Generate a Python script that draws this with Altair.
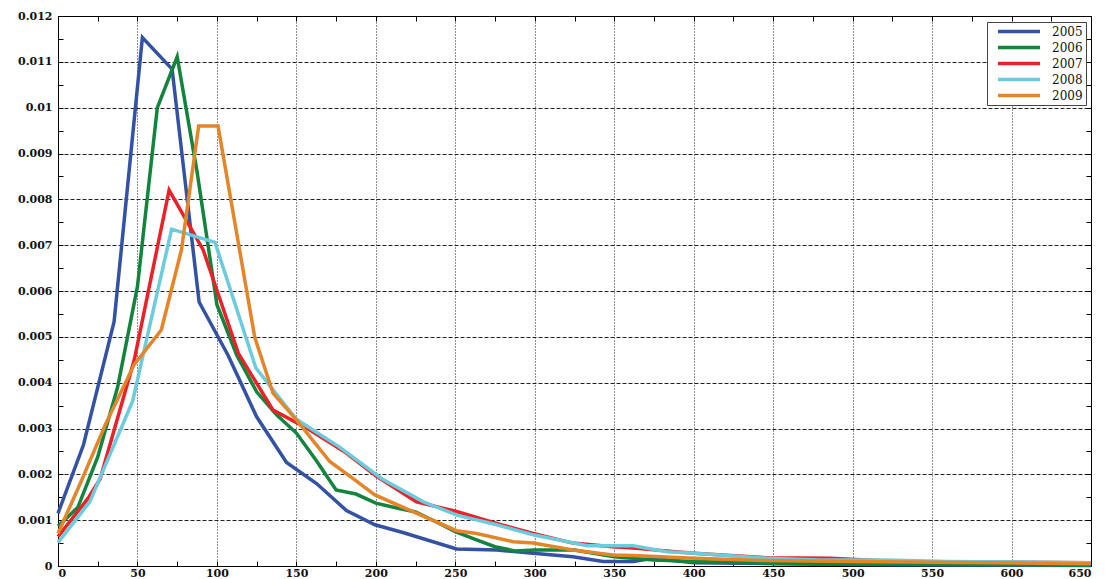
import altair as alt
import pandas as pd

# Density curves per year (x: value, y: density)
years = ["2005", "2006", "2007", "2008", "2009"]
colors = ["#3452a4", "#13843e", "#ec2027", "#6ccbdc", "#e4852a"]

x_2005 = [0, 16, 35.3, 53.1, 71.8, 88.8, 107, 124.9, 143.8, 162.7, 181.5, 199.4, 217, 250.8,
          276, 299, 324, 343, 362, 374, 400, 450, 500, 650]
y_2005 = [0.00115, 0.00264, 0.00533, 0.01153, 0.01084, 0.00576, 0.0046, 0.00326, 0.00226, 0.0018,
          0.00121, 0.0009, 0.00073, 0.00037, 0.00035, 0.00028, 0.0002, 0.0001, 0.0001, 0.00017,
          0.00007, 0.00005, 0.00003, 0.00001]

x_2006 = [0, 12.5, 25, 37.5, 50, 62.5, 75, 87.5, 100, 112.5, 125, 137.5, 150, 162.5, 175, 187.5,
          200, 212.5, 225, 237.5, 250, 262.5, 275, 287.5, 300, 325, 350, 375, 400, 450, 500, 650]
y_2006 = [0.00087, 0.00128, 0.00238, 0.0039, 0.0061, 0.0100, 0.01111, 0.0086, 0.0057, 0.0046,
          0.0038, 0.0033, 0.0029, 0.0023, 0.00166, 0.00157, 0.00137, 0.00127, 0.00118, 0.00097,
          0.00075, 0.00058, 0.00042, 0.00033, 0.00035, 0.00035, 0.0002, 0.00013, 0.0001, 0.00006,
          0.00004, 0.00002]

x_2007 = [0, 19, 26.5, 48, 69.9, 91.3, 113.5, 135.3, 157, 180, 200, 225.6, 250.8, 276, 299, 324,
          349, 362, 400, 446, 486, 528, 650]
y_2007 = [0.00064, 0.00148, 0.0019, 0.0045, 0.0082, 0.0069, 0.00464, 0.0034, 0.0030, 0.0025,
          0.00197, 0.0014, 0.00119, 0.00093, 0.00071, 0.0005, 0.00042, 0.00039, 0.00028, 0.00018,
          0.00017, 0.0001, 0.00007]

x_2008 = [0, 20, 47, 71.5, 98.8, 124.5, 150, 177, 204, 230, 251, 276, 299, 333, 362, 383, 400,
          446, 480, 520, 560, 650]
y_2008 = [0.00051, 0.0014, 0.0036, 0.00735, 0.00706, 0.00432, 0.0032, 0.0026, 0.0019, 0.0014,
          0.00111, 0.0009, 0.00068, 0.00044, 0.00044, 0.00031, 0.00028, 0.00017, 0.00013, 0.00013,
          0.0001, 0.00007]

x_2009 = [0, 14, 30, 48, 65, 77.7, 88.5, 100.7, 123.8, 135.3, 150, 171, 184, 199.4, 223, 250.8,
          263.4, 286.4, 299, 324, 349, 362, 400, 446, 500, 650]
y_2009 = [0.00071, 0.0018, 0.0031, 0.0044, 0.00515, 0.0069, 0.0096, 0.0096, 0.00499, 0.00377,
          0.00319, 0.00228, 0.00195, 0.00155, 0.00119, 0.00077, 0.00071, 0.00053, 0.0005, 0.00035,
          0.00024, 0.00023, 0.00017, 0.00012, 0.0001, 0.00005]

series = [(years[0], x_2005, y_2005), (years[1], x_2006, y_2006), (years[2], x_2007, y_2007),
          (years[3], x_2008, y_2008), (years[4], x_2009, y_2009)]

rows = []
for yr, xs, ys in series:
    for i, (a, b) in enumerate(zip(xs, ys)):
        rows.append({"year": yr, "x": a, "density": b, "order": i})
df = pd.DataFrame(rows)

x_ticks = list(range(0, 651, 25))
y_ticks = [round(i * 0.0005, 4) for i in range(25)]
major_x = "datum.value % 50 === 0"
major_y = "round(datum.value * 10000) % 10 === 0"

font = "DejaVu Serif"
xscale = alt.Scale(domain=[0, 650], nice=False, zero=False)
yscale = alt.Scale(domain=[0, 0.012], nice=False)

common = dict(
    title=None,
    domainColor="#000",
    tickColor="#000",
    tickSize={"expr": "-5"},
    labelFont=font,
    labelFontSize=11,
    labelFontWeight="bold",
    labelColor="#111",
    labelOverlap=False,
)

lines = alt.Chart(df).mark_line(strokeWidth=3.5).encode(
    x=alt.X("x:Q", scale=xscale, axis=alt.Axis(
        values=x_ticks, format="d", labelExpr=f"{major_x} ? datum.label : ''",
        labelPadding=6, grid=True, gridDash=[1, 2], gridColor="#222",
        gridOpacity={"condition": {"test": major_x, "value": 1}, "value": 0},
        **common)),
    y=alt.Y("density:Q", scale=yscale, axis=alt.Axis(
        values=y_ticks, format="~g", labelExpr=f"{major_y} ? datum.label : ''",
        labelPadding=11, grid=True, gridDash=[4, 2], gridColor="#222",
        gridOpacity={"condition": {"test": major_y, "value": 1}, "value": 0},
        **common)),
    color=alt.Color("year:N", scale=alt.Scale(domain=years, range=colors), legend=alt.Legend(
        title=None, orient="none", legendX=929, legendY=6, direction="vertical",
        symbolType="stroke", symbolSize=1764, symbolStrokeWidth=3.5, clipHeight=13,
        rowPadding=3, padding=3, strokeColor="#444", fillColor="white",
        labelFont=font, labelFontSize=12, labelColor="#111",
        symbolOffset=6, labelOffset=10)),
    order="order:Q",
)

# Mirror axes on the top and right edges (ticks only)
frame = alt.Chart(df).mark_line(opacity=0).encode(
    x=alt.X("x:Q", scale=xscale, axis=alt.Axis(
        orient="top", values=x_ticks, labels=False, grid=False, **common)),
    y=alt.Y("density:Q", scale=yscale, axis=alt.Axis(
        orient="right", values=y_ticks, labels=False, grid=False, **common)),
    detail="year:N",
    order="order:Q",
)

chart = alt.layer(lines, frame).resolve_axis(x="independent", y="independent").properties(
    width=1033,
    height=550,
    padding={"left": 58, "top": 16, "right": 14, "bottom": 13},
    autosize=alt.AutoSizeParams(type="none"),
    background="white",
).configure_view(stroke="#000", strokeWidth=1)

chart.save("out.html", embed_options={"renderer": "svg", "actions": False})
